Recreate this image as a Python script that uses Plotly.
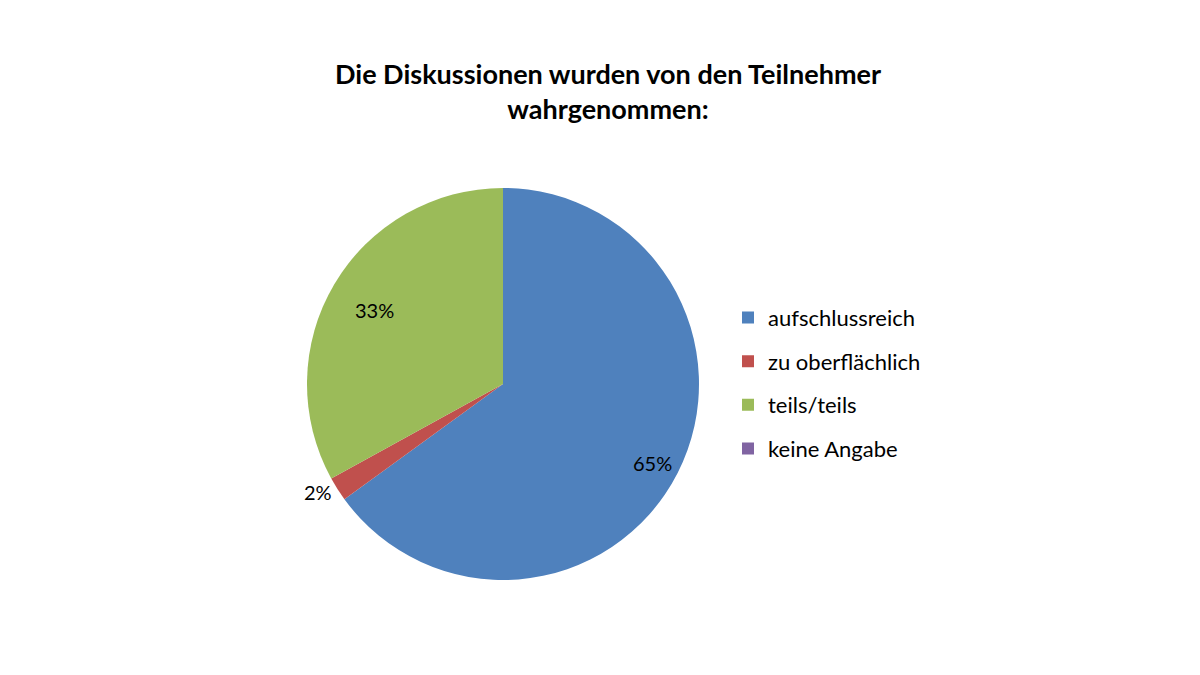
import numpy as np
import plotly.graph_objects as go

# Survey answers
labels = ["aufschlussreich", "zu oberflächlich", "teils/teils", "keine Angabe"]
values = [65, 2, 33, 0]
colors = ["#4F81BD", "#C0504D", "#9BBB59", "#8064A2"]
# which slices get their percentage inside (as in the original), outside or none
label_place = ["inside", "outside", "inside", "none"]

title_text = "<b>Die Diskussionen wurden von den Teilnehmer<br>wahrgenommen:</b>"
font_family = "Lato, Open Sans, sans-serif"

# Pie geometry in pixels (1200x675 page)
W, H = 1200, 675
cx, cy, R = 503, 383, 196
label_r = 0.81  # inside labels sit at this fraction of the radius

fig = go.Figure()

fig.add_trace(
    go.Pie(
        labels=labels,
        values=values,
        sort=False,
        direction="clockwise",
        rotation=0,
        marker=dict(colors=colors, line=dict(color="#FFFFFF", width=0)),
        texttemplate=["%{percent:.0%}" if p == "outside" else "" for p in label_place],
        textposition=["outside" if p == "outside" else "none" for p in label_place],
        textfont=dict(family=font_family, size=20, color="#000000"),
        showlegend=False,
        hoverinfo="label+percent",
        domain=dict(
            x=[(cx - R - 8) / W, (cx + R - 8) / W],
            y=[1 - (cy + R - 7) / H, 1 - (cy - R - 7) / H],
        ),
    )
)

# Inside labels, placed like the original at ~0.8 of the radius
vals = np.array(values, dtype=float)
total = vals.sum()
start = np.concatenate([[0], np.cumsum(vals)[:-1]]) / total
mid = (start + vals / total / 2) * 2 * np.pi
for i, lab in enumerate(labels):
    if label_place[i] != "inside":
        continue
    px = cx + label_r * R * np.sin(mid[i])
    py = cy - label_r * R * np.cos(mid[i])
    fig.add_annotation(
        x=px / W,
        y=1 - py / H,
        xref="paper",
        yref="paper",
        xanchor="center",
        yanchor="middle",
        text=f"{vals[i] / total:.0%}",
        showarrow=False,
        font=dict(family=font_family, size=20, color="#000000"),
    )

# Legend entries (square markers, spaced like the original)
for lab, col in zip(labels, colors):
    fig.add_trace(
        go.Scatter(
            x=[None],
            y=[None],
            mode="markers",
            name=lab,
            legendgroup=lab,
            marker=dict(symbol="square", size=12, color=col),
            showlegend=True,
            hoverinfo="skip",
        )
    )

fig.update_layout(
    width=W,
    height=H,
    paper_bgcolor="#FFFFFF",
    plot_bgcolor="#FFFFFF",
    margin=dict(l=0, r=0, t=0, b=0),
    font=dict(family=font_family, color="#000000"),
    xaxis=dict(visible=False),
    yaxis=dict(visible=False),
    title=dict(
        text=title_text,
        x=0.5,
        xanchor="center",
        y=0.887,
        yanchor="top",
        font=dict(family=font_family, size=27, color="#000000"),
    ),
    legend=dict(
        x=0.60,
        y=0.444,
        xanchor="left",
        yanchor="middle",
        font=dict(family=font_family, size=22, color="#000000"),
        itemsizing="constant",
        tracegroupgap=12,
    ),
)

fig.write_html("out.html")
